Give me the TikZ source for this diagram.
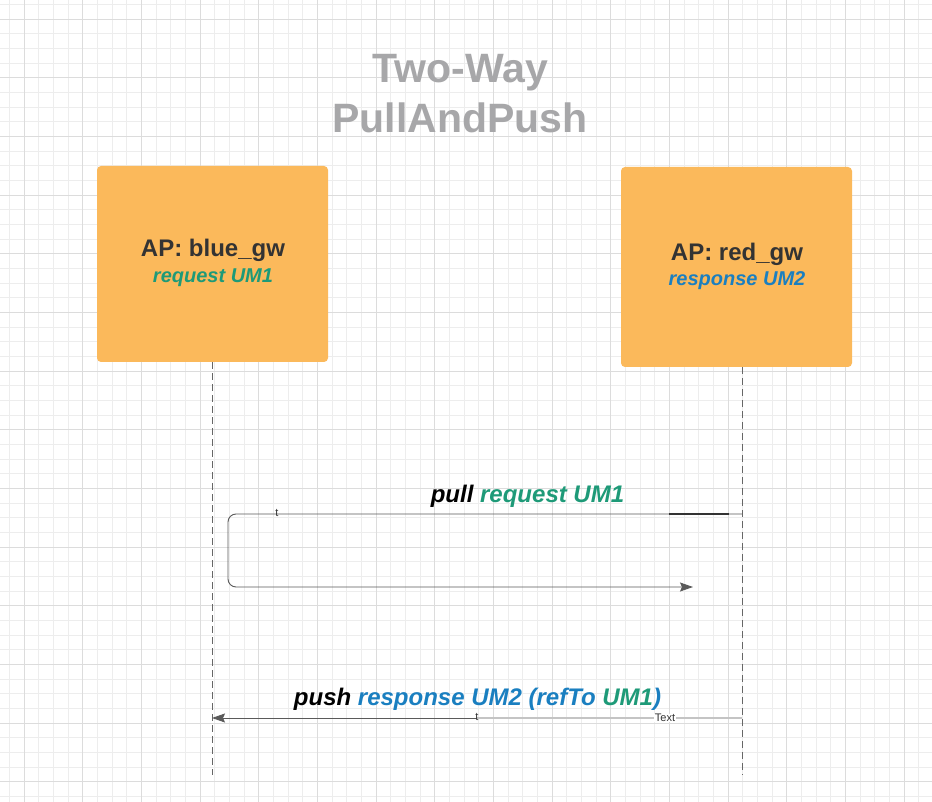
\documentclass[tikz,border=0pt]{standalone}
\usepackage{fontspec}
\setmainfont{Liberation Sans}
\usetikzlibrary{arrows.meta}
\definecolor{boxfill}{HTML}{FBB95B}
\definecolor{umteal}{HTML}{1E9A78}
\definecolor{umblue}{HTML}{1A7FC0}
\definecolor{titlegray}{HTML}{A7A7A9}
\definecolor{darktext}{HTML}{333333}
\definecolor{minorgridc}{HTML}{EDEDED}
\definecolor{majorgridc}{HTML}{DCDCDC}
\definecolor{msgline}{HTML}{5A5A5A}
\definecolor{lightmsg}{HTML}{C4C4C4}
\begin{document}
\begin{tikzpicture}[x=1pt,y=-1pt,
  apbox/.style={draw=none, fill=boxfill, rounded corners=4pt, inner sep=0pt},
  boxtitle/.style={anchor=base, text=darktext, font=\fontsize{24}{28}\selectfont\bfseries, inner sep=0pt},
  boxsub/.style={anchor=base, font=\fontsize{20}{24}\selectfont\bfseries\itshape, inner sep=0pt},
  titletxt/.style={anchor=base, text=titlegray, font=\fontsize{41}{48}\selectfont\bfseries, inner sep=0pt},
  msglabel/.style={anchor=base, font=\fontsize{24}{28}\selectfont\bfseries\itshape, inner sep=0pt},
  smalllbl/.style={font=\fontsize{11}{13}\selectfont, text=darktext, inner sep=0.6pt},
  lifeline/.style={draw=gray!80!black, line width=0.8pt, dash pattern=on 7pt off 4pt},
  msg/.style={draw=msgline, line width=0.9pt},
  tip/.style={-{Stealth[length=13pt,width=9pt,inset=2pt]}}
]
\useasboundingbox (0,0) rectangle (932,802);
\fill[white] (0,0) rectangle (932,802);
% grid
\foreach \i in {-2,...,63} { \draw[minorgridc, line width=0.8pt] ({24+14.6667*\i},0) -- ({24+14.6667*\i},802); }
\foreach \j in {-2,...,54} { \draw[minorgridc, line width=0.8pt] (0,{19+14.6667*\j}) -- (932,{19+14.6667*\j}); }
\foreach \i in {0,...,15} { \draw[majorgridc, line width=0.9pt] ({24+58.6667*\i},0) -- ({24+58.6667*\i},802); }
\foreach \j in {0,...,13} { \draw[majorgridc, line width=0.9pt] (0,{19+58.6667*\j}) -- (932,{19+58.6667*\j}); }

% title
\node[titletxt] (title1) at (460.5,83) {Two-Way};
\node[titletxt] (title2) at (460,133) {PullAndPush};

% boxes
\node[apbox, minimum width=231pt, minimum height=196pt] (blue) at (212.5,264) {};
\node[apbox, minimum width=231pt, minimum height=200pt] (red) at (736.5,267) {};
\node[boxtitle] (blueT) at (213,257) {AP: blue\_gw};
\node[boxsub, text=umteal] (blueS) at (213,283) {request UM1};
\node[boxtitle] (redT) at (737,261) {AP: red\_gw};
\node[boxsub, text=umblue] (redS) at (737,286) {response UM2};

% lifelines
\coordinate (blueEnd) at (212,775);
\coordinate (redEnd) at (742,775);
\draw[lifeline] (blue.south -| blueEnd) -- (blueEnd);
\draw[lifeline] (red.south -| redEnd) -- (redEnd);

% pull message
\coordinate (pullA) at (742,514);
\coordinate (pullB) at (228,514);
\coordinate (pullC) at (228,587);
\coordinate (pullD) at (693,587);
\coordinate (pullK1) at (669,514);
\coordinate (pullK2) at (729,514);
\draw[msg, tip, rounded corners=8pt] (pullA) -- (pullB) -- (pullC) -- (pullD);
\draw[draw=darktext, line width=1.6pt] (pullK1) -- (pullK2);
\draw[draw=lightmsg, line width=1.6pt] (pullK2) -- (pullA);
\node[smalllbl] (pullt) at (277,513) {t};
\node[msglabel] (pullLbl) at (527.5,502) {\textcolor{black}{pull} \textcolor{umteal}{request UM1}};

% push message
\coordinate (pushA) at (742,718);
\coordinate (pushM) at (477,718);
\coordinate (pushB) at (212,718);
\draw[draw=lightmsg, line width=2.6pt] (pushA) -- (pushM);
\draw[msg, tip] (pushM) -- (pushB);
\node[smalllbl] (pusht) at (477,717) {t};
\node[smalllbl, fill=white] (pushText) at (665,718) {Text};
\node[msglabel] (pushLbl) at (477.5,705) {\textcolor{black}{push} \textcolor{umblue}{response UM2 (refTo} \textcolor{umteal}{UM1}\textcolor{umblue}{)}};
\end{tikzpicture}
\end{document}
